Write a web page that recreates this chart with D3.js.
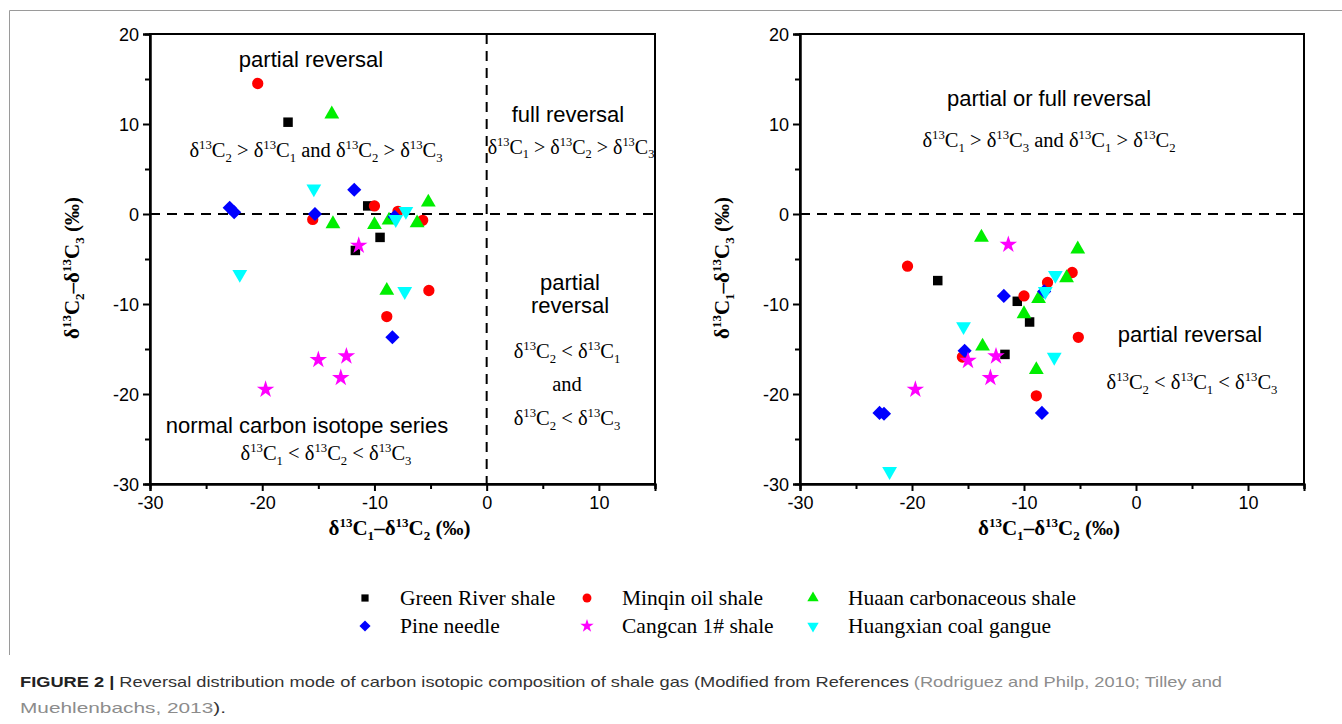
<!DOCTYPE html>
<html><head><meta charset="utf-8">
<script src="https://cdn.jsdelivr.net/npm/d3@7"></script>
<style>
html,body{margin:0;padding:0;background:#fff;}
svg{display:block;}
</style></head>
<body>
<svg id="chart" width="1342" height="724"></svg>
<script>
// ---------------- DATA ----------------
// x = δ13C1–δ13C2 ; y23 = δ13C2–δ13C3 (left panel) ; y13 = δ13C1–δ13C3 (right panel)
const seriesNames = ["Green River shale","Minqin oil shale","Huaan carbonaceous shale","Pine needle","Cangcan 1# shale","Huangxian coal gangue"];

const greenRiverX   = [-17.7, -10.6, -9.5, -11.7];
const greenRiverY23 = [10.2, 0.9, -2.6, -4.05];
const greenRiverY13 = [-7.4, -9.7, -12.0, -15.6];

const minqinX   = [-20.4, -10.0, -7.9, -5.7, -15.5, -5.15, -8.9];
const minqinY23 = [14.5, 0.9, 0.3, -0.7, -0.6, -8.5, -11.4];
const minqinY13 = [-5.8, -9.1, -7.6, -6.5, -15.9, -13.7, -20.2];

const huaanX   = [-13.8, -5.2, -13.7, -10.0, -8.7, -6.2, -8.9];
const huaanY23 = [11.1, 1.3, -1.1, -1.2, -0.7, -1.0, -8.5];
const huaanY13 = [-2.6, -3.9, -14.7, -11.1, -9.4, -7.1, -17.3];

const pineX   = [-22.9, -22.5, -15.3, -11.8, -8.2, -8.4];
const pineY23 = [0.7, 0.2, 0.0, 2.7, -0.3, -13.7];
const pineY13 = [-22.1, -22.2, -15.2, -9.1, -8.6, -22.1];

const cangcanX   = [-11.4, -15.0, -12.5, -13.0, -19.7];
const cangcanY23 = [-3.5, -16.2, -15.8, -18.2, -19.5];
const cangcanY13 = [-3.4, -16.3, -15.8, -18.2, -19.5];

const huangxianX   = [-15.4, -7.2, -8.1, -22.0, -7.3];
const huangxianY23 = [2.8, 0.3, -0.6, -6.7, -8.6];
const huangxianY13 = [-12.5, -6.8, -8.6, -28.6, -15.9];

const xMajorTicks = [-30, -20, -10, 0, 10];
const xMinorTicks = [-25, -15, -5, 5, 15];
const yMajorTicks = [-30, -20, -10, 0, 10, 20];
const yMinorTicks = [-25, -15, -5, 5, 15];
const xDomain = [-30, 15];
const yDomain = [-30, 20];

// ---------------- STYLE ----------------
const colors = ["#000000","#ff0000","#00ee00","#0000ff","#ff00ff","#00ffff"];
const symbolTypes = [d3.symbolSquare, d3.symbolCircle, d3.symbolTriangle, d3.symbolSquare, d3.symbolStar, d3.symbolTriangle];
const rotations = [0, 0, 0, 45, 0, 180];
const sizes = [90, 100, 95, 100, 95, 95];
const legendSizes = [52, 62, 56, 62, 56, 56];

const seriesX = [greenRiverX, minqinX, huaanX, pineX, cangcanX, huangxianX];
const seriesY23 = [greenRiverY23, minqinY23, huaanY23, pineY23, cangcanY23, huangxianY23];
const seriesY13 = [greenRiverY13, minqinY13, huaanY13, pineY13, cangcanY13, huangxianY13];

const svg = d3.select("#chart");
const SANS = "'Liberation Sans', Arial, sans-serif";
const SERIF = "'Liberation Serif', 'Times New Roman', serif";

// rich text helper: ^13 = superscript, _2 = subscript
function rich(sel, str, size){
  const re = /\^(\d+)|_(\w)|([^\^_]+)/g;
  let m, shift = 0;
  const small = size*0.62;
  while((m = re.exec(str)) !== null){
    let target = 0, txt, fs = size;
    if(m[1]){ target = -size*0.38; txt = m[1]; fs = small; }
    else if(m[2]){ target = size*0.22; txt = m[2]; fs = small; }
    else { target = 0; txt = m[3]; }
    sel.append("tspan").attr("dy", (target - shift).toFixed(2)).style("font-size", fs+"px").text(txt);
    shift = target;
  }
  return sel;
}

function panel(x0, x1, ys, opts){
  const x = d3.scaleLinear().domain(xDomain).range([x0, x1]);
  const y = d3.scaleLinear().domain(yDomain).range([484, 34]);
  const g = svg.append("g");
  // frame
  g.append("rect").attr("x", x0).attr("y", 34).attr("width", x1-x0).attr("height", 450)
    .attr("fill","none").attr("stroke","#000").attr("stroke-width",2);
  // dashed reference lines
  g.append("line").attr("x1", x0).attr("x2", x1).attr("y1", y(0)).attr("y2", y(0))
    .attr("stroke","#000").attr("stroke-width",2).attr("stroke-dasharray","10,7");
  if(opts.vline){
    g.append("line").attr("x1", x(0)).attr("x2", x(0)).attr("y1", 34).attr("y2", 484)
      .attr("stroke","#000").attr("stroke-width",2).attr("stroke-dasharray","10,7");
  }
  const fmt = d => String(d);
  const xa = g.append("g").attr("transform",`translate(0,484)`)
    .call(d3.axisBottom(x).tickValues(xMajorTicks).tickSize(7).tickPadding(3).tickFormat(fmt));
  const xm = g.append("g").attr("transform",`translate(0,484)`)
    .call(d3.axisBottom(x).tickValues(xMinorTicks).tickSize(5).tickFormat(""));
  const ya = g.append("g").attr("transform",`translate(${x0},0)`)
    .call(d3.axisLeft(y).tickValues(yMajorTicks).tickSize(7).tickPadding(4).tickFormat(fmt));
  const ym = g.append("g").attr("transform",`translate(${x0},0)`)
    .call(d3.axisLeft(y).tickValues(yMinorTicks).tickSize(5).tickFormat(""));
  [xa,xm,ya,ym].forEach(a=>{
    a.select(".domain").attr("stroke","#000").attr("stroke-width",2);
    a.selectAll(".tick line").attr("stroke","#000").attr("stroke-width",2);
    a.selectAll(".tick text").attr("fill","#000").style("font-family",SANS).style("font-size","18px");
  });
  xa.selectAll(".tick text").attr("dy","0.85em");
  ya.selectAll(".tick text").attr("dy","0.36em");

  // axis titles
  rich(svg.append("text").attr("x", (x0+x1)/2 - 3).attr("y", 535).attr("text-anchor","middle")
    .style("font-family",SERIF).style("font-weight","bold").style("font-size","21px"),
    "δ^13C_1–δ^13C_2 (‰)", 21);
  rich(svg.append("text").attr("transform",`translate(${opts.ylabX},268) rotate(-90)`).attr("text-anchor","middle")
    .style("font-family",SERIF).style("font-weight","bold").style("font-size","21px"),
    opts.ylabel, 21);

  // points
  seriesX.forEach((xs, i) => {
    const yv = ys[i];
    g.append("g").selectAll("path").data(xs.map((v,k)=>[v, yv[k]])).join("path")
      .attr("d", d3.symbol().type(symbolTypes[i]).size(sizes[i]))
      .attr("transform", d => `translate(${x(d[0])},${y(d[1])}) rotate(${rotations[i]})`)
      .attr("fill", colors[i]);
  });
  return {x, y};
}

function label(xp, yp, txt, font, size, fill){
  const t = svg.append("text").attr("x", xp).attr("y", yp).attr("text-anchor","middle")
    .style("font-family", font).style("font-size", size+"px").attr("fill", fill || "#000");
  if(font === SERIF) rich(t, txt, size); else t.text(txt);
  return t;
}

// outer figure border
svg.append("path").attr("d","M9.5,655 V10.5 H1342").attr("fill","none").attr("stroke","#9a9a9a").attr("stroke-width",1);

// left panel
panel(150, 655, seriesY23, {vline:true, ylabX:79, ylabel:"δ^13C_2–δ^13C_3 (‰)"});
label(311, 67, "partial reversal", SANS, 22);
label(316, 157, "δ^13C_2 > δ^13C_1 and δ^13C_2 > δ^13C_3", SERIF, 20.5);
label(568, 122, "full reversal", SANS, 22);
label(571, 154, "δ^13C_1 > δ^13C_2 > δ^13C_3", SERIF, 20);
label(570, 290, "partial", SANS, 22);
label(570, 313, "reversal", SANS, 22);
label(567, 358, "δ^13C_2 < δ^13C_1", SERIF, 20.5);
label(567, 391, "and", SERIF, 20.5);
label(567, 425, "δ^13C_2 < δ^13C_3", SERIF, 20.5);
label(307, 433, "normal carbon isotope series", SANS, 22);
label(326, 460, "δ^13C_1 < δ^13C_2 < δ^13C_3", SERIF, 20.5);

// right panel
panel(800, 1304, seriesY13, {vline:false, ylabX:729, ylabel:"δ^13C_1–δ^13C_3 (‰)"});
label(1049, 106, "partial or full reversal", SANS, 22);
label(1049, 147, "δ^13C_1 > δ^13C_3 and δ^13C_1 > δ^13C_2", SERIF, 20.5);
label(1190, 342, "partial reversal", SANS, 22);
label(1192, 389, "δ^13C_2 < δ^13C_1 < δ^13C_3", SERIF, 20.5);

// legend
const legX = [365, 587, 813];
const legY = [598, 626];
seriesNames.forEach((name, i) => {
  const col = i % 3, row = Math.floor(i / 3);
  svg.append("path").attr("d", d3.symbol().type(symbolTypes[i]).size(legendSizes[i]))
    .attr("transform", `translate(${legX[col]},${legY[row]}) rotate(${rotations[i]})`)
    .attr("fill", colors[i]);
  svg.append("text").attr("x", legX[col] + 35).attr("y", legY[row] + 7)
    .style("font-family", SERIF).style("font-size","21.5px").attr("fill","#000").text(name);
});

// caption
const cap1 = svg.append("text").attr("x", 20).attr("y", 687).style("font-family", SANS).style("font-size","15px")
  .attr("textLength", 1202).attr("lengthAdjust","spacingAndGlyphs");
cap1.append("tspan").style("font-weight","bold").attr("fill","#222").text("FIGURE 2 | ");
cap1.append("tspan").attr("fill","#333").text("Reversal distribution mode of carbon isotopic composition of shale gas (Modified from References ");
cap1.append("tspan").attr("fill","#8c8c8c").text("(Rodriguez and Philp, 2010; Tilley and");
const cap2 = svg.append("text").attr("x", 20).attr("y", 713).style("font-family", SANS).style("font-size","15px")
  .attr("textLength", 206).attr("lengthAdjust","spacingAndGlyphs");
cap2.append("tspan").attr("fill","#8c8c8c").text("Muehlenbachs, 2013");
cap2.append("tspan").attr("fill","#333").text(").");
</script>
</body></html>
